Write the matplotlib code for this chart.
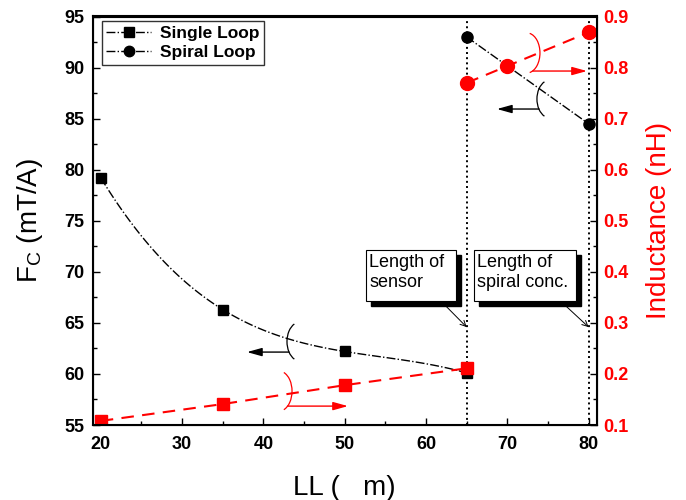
import numpy as np
import matplotlib
matplotlib.use("Agg")
import matplotlib.pyplot as plt
from matplotlib.patches import Arc, Rectangle
from matplotlib.lines import Line2D

plt.rcParams['font.family'] = ['Liberation Sans', 'DejaVu Sans']

# data
ll_single = [20, 35, 50, 65]
fc_single = [79.2, 66.3, 62.2, 60.1]
ll_spiral = [65, 80]
fc_spiral = [93.0, 84.5]

ll_ind_single = [20, 35, 50, 65]
ind_single = [0.108, 0.141, 0.178, 0.211]
ll_ind_spiral = [65, 70, 80]
ind_spiral = [0.770, 0.803, 0.869]

marks = [65, 80]
box_labels = ['Length of\nsensor', 'Length of\nspiral conc.']

fig = plt.figure(figsize=(6.86, 5.0), dpi=100)
ax = fig.add_axes([92.7/686, 75/500, 504/686, 408.5/500])
ax2 = ax.twinx()

# smooth dash-dot line through single loop points
coef = np.polyfit(ll_single, fc_single, 3)
xs = np.linspace(20, 65, 100)
ax.plot(xs, np.polyval(coef, xs), color='k', ls='-.', lw=1)
ax.plot(ll_single, fc_single, 's', color='k', ms=7.5)
ax.plot(ll_spiral, fc_spiral, '-.', color='k', lw=1)
ax.plot(ll_spiral, fc_spiral, 'o', color='k', ms=8)

ax2.plot(ll_ind_single, ind_single, 's--', color='red', ms=9, lw=1.5, dashes=(6, 4))
ax2.plot(ll_ind_spiral, ind_spiral, 'o--', color='red', ms=10, lw=1.5, dashes=(6, 4))

for m in marks:
    ax.axvline(m, color='k', ls=':', lw=1.4)

ax.set_xlim(19, 81)
ax.set_ylim(55, 95)
ax2.set_ylim(0.1, 0.9)
ax.set_xticks([20, 30, 40, 50, 60, 70, 80])
ax.set_xticks(np.arange(25, 81, 10), minor=True)
ax.set_yticks(np.arange(55, 96, 5))
ax.set_yticks(np.arange(57.5, 95, 5), minor=True)
ax2.set_yticks(np.arange(0.1, 0.91, 0.1))
ax2.set_yticks(np.arange(0.15, 0.9, 0.1), minor=True)

ax.tick_params(which='both', direction='in', labelsize=13, width=1, pad=6)
ax.tick_params(axis='x', pad=8)
ax.tick_params(which='major', length=5)
ax.tick_params(which='minor', length=3)
ax2.tick_params(which='both', direction='in', labelsize=13, width=1, colors='k', labelcolor='red', pad=5)
ax2.tick_params(which='major', length=5)
ax2.tick_params(which='minor', length=3)
for lbl in ax.get_xticklabels() + ax.get_yticklabels():
    lbl.set_fontweight('bold')
ax2.set_yticklabels(['%.1f' % v for v in np.arange(0.1, 0.91, 0.1)], fontweight='bold')
for sp in ax2.spines.values():
    sp.set_linewidth(1.5)

ax.set_xlabel('LL (   m)', fontsize=20, labelpad=16)
ax.set_ylabel('F$_\\mathregular{C}$ (mT/A)', fontsize=20, labelpad=14)
ax2.set_ylabel('Inductance (nH)', fontsize=20, color='red', labelpad=12)

handles = [Line2D([], [], color='k', ls='-.', lw=1, marker='s', ms=7),
           Line2D([], [], color='k', ls='-.', lw=1, marker='o', ms=7.5)]
leg = ax2.legend(handles, ['Single Loop', 'Spiral Loop'], loc='upper left',
                 bbox_to_anchor=(0.018, 0.988), frameon=True, fancybox=False,
                 edgecolor='k', prop={'weight': 'bold', 'size': 12.5}, handlelength=2.6,
                 borderpad=0.25, labelspacing=0.25, handletextpad=0.5, borderaxespad=0)
leg.get_frame().set_linewidth(1)

# boxes with shadow (positions in data units of the left axis)
sx, sy = 5 / 8.13, 5 / 10.21
for (x0, x1), txt in zip([(52.62, 63.69), (65.90, 78.41)], box_labels):
    y0, y1 = 67.16, 72.13
    ax.add_patch(Rectangle((x0 + sx, y0 - sy), x1 - x0, y1 - y0, color='k', zorder=4))
    ax.add_patch(Rectangle((x0, y0), x1 - x0, y1 - y0, fc='white', ec='k', lw=0.8, zorder=5))
    ax.text(x0 + 0.4, y1 - 0.35, txt, fontsize=13, va='top', ha='left', zorder=6,
            linespacing=1.25)

for xs0, m in zip([62.33, 77.09], marks):
    ax.annotate('', xy=(m, 64.59), xytext=(xs0, 66.74),
                arrowprops=dict(arrowstyle='->', color='k', lw=0.7, shrinkA=0, shrinkB=0))

# arcs + arrows showing which axis each curve belongs to
def arc_arrow(xc, yc, w, h, th1, th2, xa, xb, ya, color):
    ax2.add_patch(Arc((xc, yc), w, h, theta1=th1, theta2=th2, color=color, lw=0.9,
                      transform=ax.transData))
    ax2.annotate('', xy=(xb, ya), xytext=(xa, ya), xycoords=ax.transData,
                 textcoords=ax.transData,
                 arrowprops=dict(arrowstyle='-|>,head_length=0.9,head_width=0.25', color=color,
                                 lw=1, shrinkA=0, shrinkB=0))

arc_arrow(44.5, 63.17, 3.2, 3.82, 112, 248, 43.15, 37.98, 62.14, 'k')
arc_arrow(41.92, 58.32, 3.2, 3.92, -72, 72, 42.97, 50.40, 56.85, 'red')
arc_arrow(72.42, 91.43, 3.2, 3.92, -80, 80, 73.12, 79.8, 89.66, 'red')
arc_arrow(75.25, 86.92, 3.2, 3.72, 112, 248, 73.9, 68.73, 85.94, 'k')

fig.savefig('out.png', dpi=100)
